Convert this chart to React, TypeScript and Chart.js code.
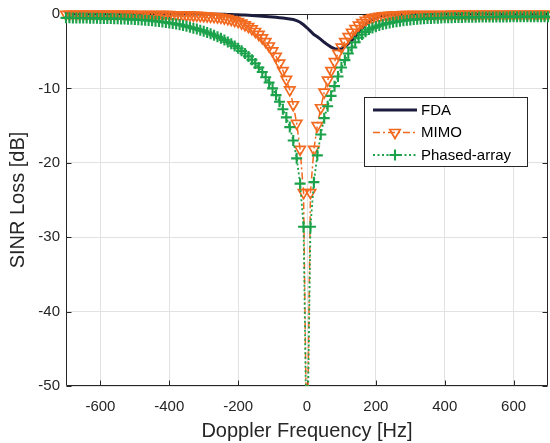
import React, { useEffect, useRef } from 'react';
import { Chart, registerables } from 'chart.js';

Chart.register(...registerables);

// Doppler frequency samples [Hz]
const freqs = [
  -700, -690, -680, -670, -660, -650, -640, -630, -620, -610,
  -600, -590, -580, -570, -560, -550, -540, -530, -520, -510,
  -500, -490, -480, -470, -460, -450, -440, -430, -420, -410,
  -400, -390, -380, -370, -360, -350, -340, -330, -320, -310,
  -300, -290, -280, -270, -260, -250, -240, -230, -220, -210,
  -200, -190, -180, -170, -160, -150, -140, -130, -120, -110,
  -100, -90, -80, -70, -60, -50, -40, -30, -20, -10,
  0, 10, 20, 30, 40, 50, 60, 70, 80, 90,
  100, 110, 120, 130, 140, 150, 160, 170, 180, 190,
  200, 210, 220, 230, 240, 250, 260, 270, 280, 290,
  300, 310, 320, 330, 340, 350, 360, 370, 380, 390,
  400, 410, 420, 430, 440, 450, 460, 470, 480, 490,
  500, 510, 520, 530, 540, 550, 560, 570, 580, 590,
  600, 610, 620, 630, 640, 650, 660, 670, 680, 690,
  700,
];

// SINR loss [dB]
const fdaLoss = [
  -0.01, -0.01, -0.01, -0.01, -0.01, -0.01, -0.01, -0.01, -0.01, -0.01,
  -0.01, -0.01, -0.01, -0.01, -0.01, -0.01, -0.01, -0.01, -0.01, -0.01,
  -0.01, -0.01, -0.01, -0.01, -0.01, -0.01, -0.01, -0.01, -0.01, -0.01,
  -0.01, -0.01, -0.01, -0.01, -0.01, -0.01, -0.01, -0.01, -0.01, -0.01,
  -0.01, -0.01, -0.02, -0.02, -0.03, -0.04, -0.05, -0.06, -0.08, -0.09,
  -0.11, -0.13, -0.15, -0.17, -0.2, -0.23, -0.26, -0.29, -0.33, -0.37,
  -0.41, -0.45, -0.49, -0.54, -0.6, -0.68, -0.75, -0.9, -1.1, -1.45,
  -1.85, -2.3, -2.75, -3.05, -3.4, -3.8, -4.15, -4.45, -4.65, -4.75,
  -4.65, -4.4, -4.0, -3.55, -3.05, -2.5, -1.95, -1.45, -1.05, -0.75,
  -0.5, -0.35, -0.24, -0.16, -0.1, -0.07, -0.05, -0.03, -0.02, -0.01,
  -0.01, -0.01, -0.01, -0.01, -0.01, -0.01, -0.01, -0.01, -0.01, -0.01,
  -0.01, -0.01, -0.01, -0.01, -0.01, -0.01, -0.01, -0.01, -0.01, -0.01,
  -0.01, -0.01, -0.01, -0.01, -0.01, -0.01, -0.01, -0.01, -0.01, -0.01,
  -0.01, -0.01, -0.01, -0.01, -0.01, -0.01, -0.01, -0.01, -0.01, -0.01,
  -0.01,
];

const mimoLoss = [
  -0.05, -0.05, -0.05, -0.05, -0.05, -0.05, -0.05, -0.05, -0.05, -0.05,
  -0.05, -0.05, -0.06, -0.06, -0.06, -0.06, -0.06, -0.06, -0.06, -0.06,
  -0.07, -0.07, -0.07, -0.07, -0.07, -0.07, -0.08, -0.08, -0.08, -0.09,
  -0.09, -0.1, -0.11, -0.12, -0.13, -0.14, -0.15, -0.17, -0.19, -0.21,
  -0.24, -0.27, -0.31, -0.35, -0.4, -0.46, -0.54, -0.63, -0.74, -0.87,
  -1.03, -1.22, -1.45, -1.7, -2.0, -2.35, -2.75, -3.2, -3.7, -4.3,
  -4.95, -5.7, -6.6, -7.6, -8.8, -10.2, -12.2, -14.7, -18.2, -24.0,
  -62, -24.0, -18.2, -15.0, -12.6, -10.5, -8.9, -7.6, -6.4, -5.3,
  -4.45, -3.7, -3.05, -2.45, -1.95, -1.5, -1.15, -0.85, -0.65, -0.5,
  -0.4, -0.32, -0.26, -0.21, -0.17, -0.14, -0.12, -0.1, -0.09, -0.08,
  -0.07, -0.07, -0.07, -0.07, -0.07, -0.07, -0.07, -0.07, -0.07, -0.07,
  -0.07, -0.07, -0.06, -0.06, -0.06, -0.06, -0.06, -0.06, -0.06, -0.06,
  -0.06, -0.06, -0.06, -0.06, -0.05, -0.05, -0.05, -0.05, -0.05, -0.05,
  -0.05, -0.05, -0.05, -0.05, -0.05, -0.05, -0.05, -0.05, -0.05, -0.05,
  -0.05,
];

const phasedLoss = [
  -0.52, -0.52, -0.53, -0.53, -0.54, -0.54, -0.55, -0.56, -0.57, -0.58,
  -0.59, -0.6, -0.61, -0.62, -0.63, -0.65, -0.66, -0.68, -0.7, -0.72,
  -0.74, -0.77, -0.8, -0.83, -0.87, -0.91, -0.96, -1.01, -1.07, -1.13,
  -1.2, -1.28, -1.36, -1.45, -1.55, -1.66, -1.78, -1.9, -2.03, -2.17,
  -2.32, -2.48, -2.65, -2.85, -3.05, -3.25, -3.5, -3.75, -4.0, -4.3,
  -4.6, -4.95, -5.3, -5.7, -6.15, -6.65, -7.2, -7.8, -8.5, -9.2,
  -10.0, -10.9, -11.8, -12.8, -13.9, -15.2, -17.0, -19.4, -22.8, -28.6,
  -62, -28.6, -22.6, -19.0, -16.2, -14.0, -12.4, -11.0, -9.7, -8.4,
  -7.2, -6.2, -5.3, -4.5, -3.8, -3.2, -2.75, -2.4, -2.1, -1.88,
  -1.7, -1.55, -1.42, -1.3, -1.2, -1.11, -1.03, -0.96, -0.9, -0.84,
  -0.79, -0.75, -0.71, -0.68, -0.65, -0.62, -0.6, -0.58, -0.56, -0.54,
  -0.52, -0.5, -0.49, -0.48, -0.47, -0.46, -0.45, -0.44, -0.44, -0.43,
  -0.42, -0.42, -0.41, -0.41, -0.4, -0.4, -0.39, -0.39, -0.39, -0.38,
  -0.38, -0.38, -0.37, -0.37, -0.37, -0.37, -0.36, -0.36, -0.36, -0.36,
  -0.36,
];

const xTicks = [-600, -400, -200, 0, 200, 400, 600];
const yTicks = [-50, -40, -30, -20, -10, 0];
const seriesNames = ['FDA', 'MIMO', 'Phased-array'];

const FONT = '"Liberation Sans", Arial, Helvetica, sans-serif';
const AXIS_COLOR = '#262626';
const FDA_COLOR = '#1c1c3e';
const MIMO_COLOR = '#f26a1f';
const PA_COLOR = '#1ba24b';
const MIMO_DASH = [7, 3, 2, 3];
const PA_DASH = [2, 2.5];

function drawTriangleDown(ctx: CanvasRenderingContext2D, x: number, y: number, r: number) {
  ctx.beginPath();
  let rad = Math.PI;
  ctx.moveTo(x + Math.sin(rad) * r, y - Math.cos(rad) * r);
  rad += (2 * Math.PI) / 3;
  ctx.lineTo(x + Math.sin(rad) * r, y - Math.cos(rad) * r);
  rad += (2 * Math.PI) / 3;
  ctx.lineTo(x + Math.sin(rad) * r, y - Math.cos(rad) * r);
  ctx.closePath();
  ctx.stroke();
}

export default function App() {
  const ref = useRef<HTMLCanvasElement>(null);

  useEffect(() => {
    const canvas = ref.current;
    if (!canvas) return;
    const toXY = (vals: number[]) => freqs.map((f, i) => ({ x: f, y: vals[i] }));

    const framePlugin = {
      id: 'frame',
      beforeDatasetsDraw(chart: any) {
        const { ctx, chartArea, scales } = chart;
        const L = Math.round(chartArea.left) + 0.5;
        const R = Math.round(chartArea.right) - 0.5;
        const T = Math.round(chartArea.top) + 0.5;
        const B = Math.round(chartArea.bottom) - 0.5;
        ctx.save();
        ctx.strokeStyle = AXIS_COLOR;
        ctx.lineWidth = 1;
        ctx.beginPath();
        ctx.rect(L, T, R - L, B - T);
        ctx.stroke();
        ctx.beginPath();
        for (const v of xTicks) {
          const px = Math.round(scales.x.getPixelForValue(v)) + 0.5;
          ctx.moveTo(px, B);
          ctx.lineTo(px, B - 5);
          ctx.moveTo(px, T);
          ctx.lineTo(px, T + 5);
        }
        for (const v of yTicks) {
          const py = Math.round(scales.y.getPixelForValue(v)) + 0.5;
          ctx.moveTo(L, py);
          ctx.lineTo(L + 5, py);
          ctx.moveTo(R, py);
          ctx.lineTo(R - 5, py);
        }
        ctx.stroke();
        ctx.restore();
      },
    };

    const legendPlugin = {
      id: 'matlabLegend',
      afterDraw(chart: any) {
        const ctx: CanvasRenderingContext2D = chart.ctx;
        const bx = 364.5, by = 97.5, bw = 163, bh = 69;
        ctx.save();
        ctx.fillStyle = '#ffffff';
        ctx.fillRect(bx, by, bw, bh);
        ctx.strokeStyle = AXIS_COLOR;
        ctx.lineWidth = 1;
        ctx.strokeRect(bx, by, bw, bh);
        const rowsY = [110, 132.5, 155];
        const x0 = 373, x1 = 417, xm = 395;
        ctx.strokeStyle = FDA_COLOR;
        ctx.lineWidth = 3;
        ctx.setLineDash([]);
        ctx.beginPath();
        ctx.moveTo(x0, rowsY[0]);
        ctx.lineTo(x1, rowsY[0]);
        ctx.stroke();
        ctx.strokeStyle = MIMO_COLOR;
        ctx.lineWidth = 1.5;
        ctx.setLineDash(MIMO_DASH);
        ctx.beginPath();
        ctx.moveTo(x0, rowsY[1]);
        ctx.lineTo(x1, rowsY[1]);
        ctx.stroke();
        ctx.setLineDash([]);
        ctx.lineWidth = 1.7;
        drawTriangleDown(ctx, xm, rowsY[1], 6);
        ctx.strokeStyle = PA_COLOR;
        ctx.lineWidth = 1.8;
        ctx.setLineDash(PA_DASH);
        ctx.beginPath();
        ctx.moveTo(x0, rowsY[2]);
        ctx.lineTo(x1, rowsY[2]);
        ctx.stroke();
        ctx.setLineDash([]);
        ctx.lineWidth = 2.1;
        ctx.beginPath();
        ctx.moveTo(xm - 5.5, rowsY[2]);
        ctx.lineTo(xm + 5.5, rowsY[2]);
        ctx.moveTo(xm, rowsY[2] - 5.5);
        ctx.lineTo(xm, rowsY[2] + 5.5);
        ctx.stroke();
        ctx.fillStyle = '#000000';
        ctx.font = `15px ${FONT}`;
        ctx.textAlign = 'left';
        ctx.textBaseline = 'middle';
        seriesNames.forEach((name, i) => ctx.fillText(name, 421, rowsY[i] + 0.5));
        ctx.restore();
      },
    };

    const markerClip = { left: 8, top: 8, right: 8, bottom: 0 };

    const chart = new Chart(canvas, {
      type: 'line',
      data: {
        datasets: [
          {
            label: seriesNames[0],
            data: toXY(fdaLoss),
            borderColor: FDA_COLOR,
            borderWidth: 3,
            pointRadius: 0,
            fill: false,
            order: 2,
            clip: markerClip as any,
          },
          {
            label: seriesNames[1],
            data: toXY(mimoLoss),
            borderColor: MIMO_COLOR,
            borderWidth: 1.5,
            borderDash: MIMO_DASH,
            pointStyle: 'triangle',
            rotation: 180,
            pointRadius: 6,
            pointBorderWidth: 1.7,
            pointBorderColor: MIMO_COLOR,
            pointBackgroundColor: 'rgba(0,0,0,0)',
            fill: false,
            order: 1,
            clip: markerClip as any,
          } as any,
          {
            label: seriesNames[2],
            data: toXY(phasedLoss),
            borderColor: PA_COLOR,
            borderWidth: 1.8,
            borderDash: PA_DASH,
            pointStyle: 'cross',
            pointRadius: 5.5,
            pointBorderWidth: 2.1,
            pointBorderColor: PA_COLOR,
            pointBackgroundColor: PA_COLOR,
            fill: false,
            order: 0,
            clip: markerClip as any,
          },
        ],
      },
      options: {
        animation: false,
        responsive: false,
        devicePixelRatio: 1,
        events: [],
        layout: { autoPadding: false, padding: { top: 14, right: 2, left: 0, bottom: 0 } },
        plugins: { legend: { display: false }, tooltip: { enabled: false } },
        elements: { line: { tension: 0 } },
        scales: {
          x: {
            type: 'linear',
            min: -700,
            max: 700,
            afterBuildTicks: (s: any) => {
              s.ticks = xTicks.map((v) => ({ value: v }));
            },
            afterFit: (s: any) => {
              s.height = 57;
              s.paddingLeft = 0;
              s.paddingRight = 0;
            },
            grid: { color: '#e2e2e2', lineWidth: 1, drawTicks: false },
            border: { display: false },
            ticks: {
              color: AXIS_COLOR,
              font: { family: FONT, size: 15 },
              padding: 12,
              maxRotation: 0,
              autoSkip: false,
              callback: (v: any) => String(v),
            },
            title: {
              display: true,
              text: 'Doppler Frequency [Hz]',
              color: AXIS_COLOR,
              font: { family: FONT, size: 20 },
              padding: { top: 0, bottom: 0 },
            },
          },
          y: {
            type: 'linear',
            min: -50,
            max: 0,
            afterBuildTicks: (s: any) => {
              s.ticks = yTicks.map((v) => ({ value: v }));
            },
            afterFit: (s: any) => {
              s.width = 66;
              s.paddingTop = 0;
              s.paddingBottom = 0;
            },
            grid: { color: '#e2e2e2', lineWidth: 1, drawTicks: false },
            border: { display: false },
            ticks: {
              color: AXIS_COLOR,
              font: { family: FONT, size: 15 },
              padding: 6,
              autoSkip: false,
              callback: (v: any) => String(v),
            },
            title: {
              display: true,
              text: 'SINR Loss [dB]',
              color: AXIS_COLOR,
              font: { family: FONT, size: 20 },
              padding: { top: 6, bottom: 0 },
            },
          },
        },
      },
      plugins: [framePlugin, legendPlugin],
    } as any);

    return () => chart.destroy();
  }, []);

  return (
    <div style={{ position: 'absolute', left: 0, top: 0, width: 550, height: 443, background: '#ffffff' }}>
      <canvas ref={ref} width={550} height={443} style={{ display: 'block' }} />
    </div>
  );
}
